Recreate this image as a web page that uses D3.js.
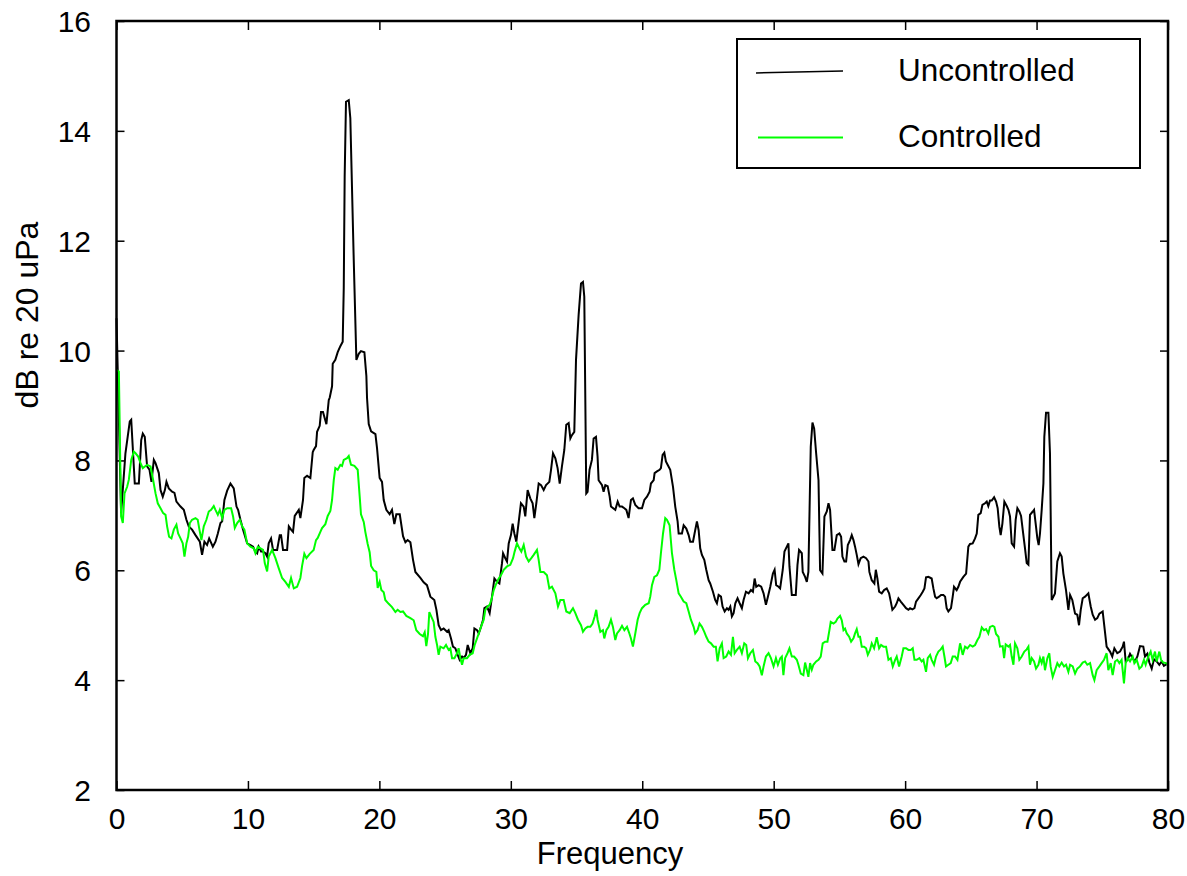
<!DOCTYPE html>
<html>
<head>
<meta charset="utf-8">
<script src="https://cdn.jsdelivr.net/npm/d3@7"></script>
<style>
  body { margin: 0; background: #fff; }
  svg text { font-family: "Liberation Sans", Arial, sans-serif; fill: #000; }
</style>
</head>
<body>
<script>
// values: [frequency, dB]
var uncontrolled = [
  [0,10.59],[0.35,7.04],[0.68,8.13],[1.01,8.71],[1.12,8.74],[1.39,7.58],[1.70,7.58],[1.88,8.37],[2.00,8.49],[2.15,8.43],
  [2.33,7.89],[2.51,7.83],[2.66,7.61],[2.84,8.01],[2.97,7.95],[3.22,7.77],[3.35,7.46],[3.52,7.34],[3.68,7.46],[3.80,7.61],
  [3.98,7.49],[4.23,7.43],[4.41,7.41],[4.56,7.25],[4.87,7.16],[5.12,7.10],[5.32,6.92],[5.50,6.80],[5.75,6.74],[6.01,6.64],
  [6.34,6.52],[6.51,6.28],[6.69,6.52],[6.89,6.46],[7.05,6.58],[7.33,6.43],[7.53,6.52],[7.71,6.67],[7.91,6.86],[8.04,6.89],
  [8.21,7.28],[8.42,7.45],[8.67,7.58],[8.92,7.49],[9.13,7.16],[9.25,7.10],[9.43,6.92],[9.63,6.74],[9.94,6.49],[10.19,6.46],
  [10.39,6.43],[10.57,6.34],[10.70,6.31],[10.82,6.43],[11.00,6.34],[11.13,6.34],[11.33,6.31],[11.46,6.25],[11.58,6.49],[11.76,6.58],
  [11.91,6.37],[12.22,6.37],[12.42,6.64],[12.52,6.64],[12.67,6.37],[12.98,6.37],[13.11,6.80],[13.28,6.74],[13.43,6.70],[13.56,6.99],
  [13.87,7.10],[13.99,6.95],[14.19,7.28],[14.29,7.68],[14.5,7.72],[14.75,7.68],[14.93,8.15],[15.0,8.19],[15.18,8.26],[15.26,8.52],
  [15.46,8.63],[15.56,8.88],[15.71,8.88],[15.97,8.66],[16.15,9.10],[16.22,9.14],[16.4,9.35],[16.45,9.76],[16.65,9.83],[16.83,9.97],
  [17.03,10.08],[17.21,10.16],[17.29,11.14],[17.36,13.18],[17.46,14.53],[17.67,14.56],[17.79,14.23],[18.05,11.65],[18.25,9.83],[18.43,9.94],
  [18.6,9.99],[18.86,9.97],[19.01,9.54],[19.06,9.14],[19.19,8.66],[19.37,8.53],[19.7,8.48],[19.82,8.23],[20.02,7.68],[20.2,7.61],
  [20.33,7.28],[20.53,7.10],[20.78,7.02],[20.96,7.10],[21.14,6.84],[21.29,7.02],[21.55,7.02],[21.8,6.62],[21.98,6.51],[22.15,6.55],
  [22.36,6.51],[22.56,6.19],[22.74,5.97],[23.12,5.86],[23.37,5.78],[23.62,5.73],[23.88,5.52],[24.18,5.46],[24.34,5.28],[24.51,5.0],
  [24.69,4.91],[24.89,4.94],[25.15,4.88],[25.27,4.91],[25.45,4.76],[25.6,4.61],[25.78,4.58],[25.96,4.46],[26.11,4.37],[26.29,4.43],
  [26.41,4.40],[26.59,4.46],[26.72,4.64],[26.92,4.49],[27.1,4.58],[27.23,4.94],[27.43,4.91],[27.56,4.85],[27.73,4.97],[27.89,5.10],
  [27.99,5.31],[28.19,5.34],[28.39,5.22],[28.57,5.52],[28.75,5.85],[28.95,5.79],[29.13,5.76],[29.33,6.13],[29.41,6.31],[29.58,6.22],
  [29.71,6.16],[29.84,6.49],[30.01,6.64],[30.14,6.85],[30.27,6.67],[30.42,6.52],[30.6,6.88],[30.77,7.22],[30.98,7.16],[31.1,6.98],
  [31.28,7.46],[31.48,7.31],[31.66,7.22],[31.79,6.95],[31.94,7.22],[32.12,7.58],[32.3,7.55],[32.5,7.46],[32.68,7.55],[32.93,7.61],
  [33.06,7.83],[33.21,8.13],[33.39,8.04],[33.56,7.86],[33.72,7.58],[33.89,7.89],[34.07,8.19],[34.22,8.65],[34.4,8.68],[34.53,8.40],
  [34.65,8.46],[34.83,8.52],[34.96,9.83],[35.16,10.65],[35.34,11.22],[35.49,11.25],[35.59,10.98],[35.74,7.40],[35.84,7.43],[35.99,7.83],
  [36.17,8.01],[36.3,8.40],[36.48,8.43],[36.6,8.07],[36.68,7.64],[36.94,7.55],[37.06,7.43],[37.19,7.55],[37.37,7.53],[37.52,7.34],
  [37.62,7.16],[37.95,7.10],[38.13,7.25],[38.28,7.16],[38.46,7.16],[38.64,7.13],[38.79,7.10],[38.96,6.95],[39.14,7.28],[39.29,7.31],
  [39.47,7.19],[39.72,7.13],[39.98,7.13],[40.16,7.28],[40.36,7.34],[40.56,7.43],[40.66,7.58],[40.87,7.64],[40.94,7.77],[41.12,7.80],
  [41.32,7.83],[41.42,7.86],[41.55,8.10],[41.68,8.14],[41.8,7.98],[41.93,7.92],[42.13,7.83],[42.34,7.52],[42.51,7.16],[42.69,6.89],
  [42.77,6.67],[43.02,6.67],[43.15,6.82],[43.35,6.76],[43.53,6.64],[43.65,6.52],[43.86,6.52],[43.98,6.67],[44.16,6.89],[44.29,6.73],
  [44.41,6.40],[44.54,6.28],[44.72,6.19],[44.87,6.01],[45.05,5.82],[45.17,5.76],[45.38,5.61],[45.55,5.46],[45.68,5.40],[45.81,5.55],
  [45.99,5.52],[46.11,5.34],[46.27,5.25],[46.44,5.31],[46.57,5.28],[46.7,5.34],[46.82,5.16],[46.95,5.22],[47.08,5.40],[47.25,5.49],
  [47.41,5.40],[47.58,5.31],[47.71,5.46],[47.89,5.61],[48.09,5.58],[48.27,5.64],[48.42,5.61],[48.55,5.85],[48.67,5.70],[48.85,5.73],
  [49.05,5.70],[49.23,5.58],[49.41,5.37],[49.56,5.52],[49.74,5.70],[49.94,5.94],[50.07,6.01],[50.19,5.73],[50.37,5.70],[50.49,5.67],
  [50.69,6.01],[50.82,6.34],[51.0,6.43],[51.12,6.49],[51.2,6.07],[51.38,5.55],[51.68,5.55],[51.81,6.10],[51.93,6.37],[52.14,6.31],
  [52.21,5.97],[52.39,5.88],[52.52,5.79],[52.64,5.97],[52.82,8.25],[52.95,8.69],[53.08,8.58],[53.23,8.13],[53.41,7.64],[53.53,6.0],
  [53.71,5.94],[53.86,6.98],[54.04,7.07],[54.17,7.22],[54.29,7.10],[54.47,6.37],[54.62,6.37],[54.8,6.64],[55.0,6.67],[55.13,6.61],
  [55.23,6.25],[55.38,6.16],[55.51,6.16],[55.64,6.46],[55.81,6.55],[55.94,6.64],[56.07,6.55],[56.19,6.43],[56.32,6.28],[56.45,6.11],
  [56.62,6.22],[56.83,6.25],[57.03,6.22],[57.21,6.16],[57.28,5.97],[57.46,5.82],[57.66,5.76],[57.77,6.01],[57.89,5.85],[58.02,5.61],
  [58.22,5.58],[58.4,5.64],[58.6,5.67],[58.78,5.58],[58.91,5.43],[59.03,5.28],[59.24,5.34],[59.36,5.40],[59.49,5.49],[59.67,5.43],
  [59.87,5.37],[60.07,5.31],[60.25,5.28],[60.38,5.31],[60.55,5.29],[60.71,5.31],[60.83,5.43],[61.01,5.49],[61.19,5.55],[61.34,5.61],
  [61.47,5.67],[61.59,5.87],[61.77,5.88],[62.02,5.85],[62.15,5.67],[62.28,5.52],[62.4,5.49],[62.58,5.52],[62.73,5.55],[62.91,5.55],
  [63.04,5.52],[63.16,5.31],[63.29,5.25],[63.49,5.31],[63.62,5.52],[63.72,5.70],[63.92,5.64],[64.05,5.70],[64.18,5.79],[64.43,5.88],
  [64.64,5.94],[64.81,6.43],[64.94,6.48],[65.14,6.49],[65.32,6.58],[65.45,6.67],[65.57,7.01],[65.75,7.04],[65.88,7.19],[66.08,7.22],
  [66.21,7.25],[66.33,7.17],[66.46,7.27],[66.59,7.27],[66.77,7.33],[66.92,7.25],[67.04,7.13],[67.17,6.79],[67.27,6.64],[67.4,6.85],
  [67.55,7.25],[67.73,7.17],[67.86,7.10],[67.98,6.98],[68.11,6.49],[68.29,6.43],[68.41,6.92],[68.54,7.13],[68.69,7.07],[68.82,6.99],
  [68.95,6.73],[69.12,6.40],[69.25,6.13],[69.38,6.10],[69.5,7.01],[69.71,7.07],[69.81,7.10],[69.96,6.79],[70.06,6.58],[70.16,6.46],
  [70.26,6.67],[70.39,7.10],[70.52,7.58],[70.59,8.43],[70.72,8.87],[70.9,8.87],[71.02,8.13],[71.15,5.46],[71.4,5.58],[71.58,6.16],
  [71.78,6.31],[71.91,6.25],[72.04,5.94],[72.24,5.64],[72.42,5.28],[72.55,5.55],[72.72,5.46],[72.93,5.21],[73.1,5.19],[73.23,5.00],
  [73.36,5.28],[73.51,5.49],[73.69,5.52],[73.94,5.58],[74.12,5.34],[74.27,5.19],[74.45,5.10],[74.62,5.13],[74.78,5.21],[75.03,5.25],
  [75.33,4.61],[75.59,4.52],[75.76,4.43],[75.92,4.58],[76.14,4.49],[76.35,4.52],[76.55,4.61],[76.65,4.70],[76.78,4.34],[76.93,4.37],
  [77.11,4.48],[77.31,4.40],[77.49,4.34],[77.67,4.43],[77.87,4.62],[78.12,4.61],[78.25,4.43],[78.43,4.48],[78.58,4.32],[78.76,4.21],
  [78.93,4.38],[79.14,4.34],[79.34,4.28],[79.52,4.34],[79.69,4.26],[79.9,4.29]
];

var controlled = [
  [0,9.65],[0.18,9.62],[0.35,6.98],[0.48,6.86],[0.61,7.40],[0.81,7.52],[0.94,7.65],[1.12,8.01],[1.32,8.16],[1.45,8.13],
  [1.65,8.07],[1.83,7.95],[2.00,7.86],[2.33,7.92],[2.59,7.89],[2.79,7.64],[2.97,7.40],[3.14,7.22],[3.35,7.13],[3.55,7.04],
  [3.73,7.01],[3.85,6.80],[4.00,6.61],[4.18,6.58],[4.36,6.74],[4.56,6.83],[4.69,6.67],[4.87,6.58],[5.04,6.49],[5.17,6.25],
  [5.32,6.49],[5.45,6.61],[5.58,6.86],[5.75,6.92],[6.01,6.95],[6.18,6.92],[6.31,6.74],[6.46,6.55],[6.64,6.80],[6.84,6.92],
  [7.02,7.07],[7.20,7.10],[7.40,7.17],[7.53,7.10],[7.71,7.01],[7.86,7.10],[8.04,6.95],[8.21,7.10],[8.42,7.13],[8.72,7.13],
  [8.87,6.98],[9.00,6.77],[9.18,6.86],[9.38,6.92],[9.56,6.80],[9.73,6.74],[9.94,6.49],[10.19,6.43],[10.44,6.40],[10.57,6.31],
  [10.75,6.43],[10.95,6.40],[11.15,6.37],[11.28,6.13],[11.46,5.98],[11.58,6.25],[11.84,6.37],[12.09,6.22],[12.34,6.04],[12.60,5.86],
  [12.85,5.79],[13.11,5.70],[13.28,5.86],[13.49,5.67],[13.74,5.70],[13.99,5.86],[14.12,6.08],[14.29,6.30],[14.45,6.22],[14.7,6.30],
  [15.0,6.37],[15.18,6.55],[15.31,6.59],[15.51,6.70],[15.64,6.77],[15.89,6.84],[16.07,6.99],[16.27,7.08],[16.4,7.28],[16.53,7.64],
  [16.65,7.86],[16.83,7.83],[17.03,7.92],[17.16,7.90],[17.29,8.01],[17.54,8.04],[17.67,8.08],[17.84,7.92],[18.1,7.90],[18.35,7.83],
  [18.5,7.35],[18.6,7.02],[18.81,6.88],[18.93,6.70],[19.11,6.48],[19.26,6.33],[19.37,6.08],[19.57,6.00],[19.77,5.97],[19.87,5.68],
  [20.02,5.79],[20.15,5.64],[20.33,5.60],[20.45,5.46],[20.71,5.39],[20.96,5.33],[21.22,5.24],[21.39,5.28],[21.6,5.24],[21.8,5.25],
  [22.05,5.17],[22.36,5.13],[22.61,5.09],[22.81,4.91],[23.07,4.84],[23.32,4.80],[23.45,4.87],[23.57,4.62],[23.7,4.84],[23.8,5.24],
  [24.13,5.06],[24.26,4.79],[24.39,4.64],[24.51,4.46],[24.64,4.61],[24.89,4.58],[25.07,4.64],[25.27,4.55],[25.4,4.58],[25.53,4.40],
  [25.71,4.40],[25.91,4.49],[26.03,4.58],[26.16,4.40],[26.29,4.28],[26.41,4.40],[26.67,4.40],[26.87,4.46],[27.1,4.49],[27.25,4.64],
  [27.43,4.76],[27.56,4.85],[27.73,4.97],[27.94,5.10],[28.06,5.28],[28.24,5.34],[28.39,5.37],[28.52,5.46],[28.7,5.64],[28.9,5.76],
  [29.08,5.85],[29.25,5.91],[29.46,6.01],[29.71,6.07],[29.96,6.10],[30.17,6.22],[30.29,6.34],[30.47,6.49],[30.65,6.40],[30.8,6.34],
  [30.98,6.46],[31.16,6.25],[31.36,6.16],[31.56,6.22],[31.74,6.28],[31.99,6.37],[32.12,6.19],[32.25,5.97],[32.5,5.97],[32.75,5.91],
  [32.93,5.67],[33.13,5.70],[33.39,5.58],[33.59,5.34],[33.77,5.46],[34.02,5.46],[34.22,5.25],[34.48,5.22],[34.73,5.31],[34.91,5.22],
  [35.11,5.10],[35.34,5.00],[35.49,4.88],[35.67,4.94],[35.84,4.97],[36.05,4.97],[36.22,5.03],[36.38,5.16],[36.5,5.28],[36.6,5.10],
  [36.81,4.88],[37.01,4.91],[37.11,4.76],[37.27,4.91],[37.44,4.97],[37.62,5.10],[37.77,4.97],[37.95,4.73],[38.08,4.85],[38.28,4.91],
  [38.46,4.99],[38.64,4.91],[38.84,4.97],[39.02,4.85],[39.14,4.76],[39.29,4.61],[39.47,4.85],[39.65,5.10],[39.8,5.22],[39.98,5.31],
  [40.23,5.37],[40.49,5.40],[40.61,5.52],[40.74,5.73],[40.92,5.88],[41.12,5.91],[41.3,6.01],[41.42,6.31],[41.58,6.67],[41.75,6.95],
  [41.88,6.92],[42.08,6.82],[42.26,6.31],[42.44,6.01],[42.59,5.82],[42.77,5.58],[42.94,5.52],[43.15,5.43],[43.35,5.40],[43.53,5.25],
  [43.7,5.10],[43.91,4.97],[44.03,4.85],[44.21,4.91],[44.36,5.03],[44.54,4.97],[44.72,4.88],[44.87,4.79],[45.05,4.70],[45.23,4.67],
  [45.43,4.61],[45.6,4.61],[45.73,4.34],[45.89,4.58],[46.06,4.67],[46.19,4.40],[46.39,4.43],[46.57,4.52],[46.75,4.46],[46.9,4.79],
  [47.03,4.49],[47.2,4.55],[47.41,4.61],[47.58,4.49],[47.76,4.67],[47.91,4.64],[48.04,4.40],[48.22,4.49],[48.42,4.55],[48.6,4.34],
  [48.77,4.31],[48.93,4.25],[49.1,4.09],[49.23,4.25],[49.41,4.43],[49.61,4.49],[49.79,4.40],[49.99,4.25],[50.17,4.40],[50.32,4.28],
  [50.5,4.40],[50.62,4.43],[50.74,4.09],[50.87,4.40],[51.05,4.49],[51.2,4.58],[51.38,4.43],[51.55,4.43],[51.76,4.37],[51.88,4.28],
  [52.06,4.12],[52.26,4.09],[52.39,4.32],[52.52,4.19],[52.64,4.06],[52.77,4.31],[52.9,4.19],[53.02,4.28],[53.23,4.34],[53.41,4.37],
  [53.58,4.43],[53.73,4.67],[53.91,4.70],[54.09,4.70],[54.24,4.91],[54.34,5.06],[54.55,5.03],[54.72,5.06],[54.85,5.12],[55.05,5.17],
  [55.18,5.09],[55.31,4.91],[55.43,4.94],[55.56,4.85],[55.74,4.79],[55.89,4.70],[56.07,4.76],[56.19,4.85],[56.32,4.93],[56.45,4.79],
  [56.57,4.79],[56.7,4.61],[56.88,4.61],[57.03,4.58],[57.16,4.46],[57.33,4.55],[57.46,4.67],[57.64,4.58],[57.84,4.78],[58.02,4.58],
  [58.17,4.64],[58.35,4.61],[58.55,4.61],[58.73,4.37],[58.91,4.40],[59.06,4.25],[59.24,4.37],[59.36,4.43],[59.54,4.25],[59.74,4.43],
  [59.87,4.58],[60.07,4.58],[60.25,4.55],[60.43,4.55],[60.58,4.58],[60.71,4.37],[60.88,4.37],[61.09,4.40],[61.26,4.34],[61.39,4.37],
  [61.59,4.15],[61.72,4.40],[61.9,4.46],[62.02,4.37],[62.2,4.28],[62.35,4.43],[62.53,4.52],[62.71,4.56],[62.86,4.61],[62.99,4.43],
  [63.11,4.25],[63.29,4.28],[63.47,4.31],[63.62,4.43],[63.8,4.43],[63.98,4.37],[64.18,4.67],[64.38,4.46],[64.56,4.61],[64.74,4.58],
  [64.94,4.64],[65.14,4.61],[65.32,4.64],[65.5,4.73],[65.65,4.79],[65.83,4.96],[66.0,4.91],[66.16,4.93],[66.33,4.85],[66.46,4.97],
  [66.66,4.99],[66.79,4.97],[66.92,4.84],[67.1,4.79],[67.22,4.61],[67.42,4.62],[67.53,4.40],[67.65,4.65],[67.86,4.61],[67.98,4.64],
  [68.11,4.43],[68.24,4.28],[68.36,4.67],[68.54,4.58],[68.69,4.37],[68.87,4.43],[69.07,4.52],[69.25,4.56],[69.38,4.61],[69.5,4.28],
  [69.63,4.40],[69.81,4.34],[69.96,4.21],[70.14,4.28],[70.26,4.40],[70.39,4.31],[70.52,4.43],[70.64,4.18],[70.82,4.40],[70.97,4.49],
  [71.07,4.25],[71.23,4.06],[71.4,4.18],[71.58,4.31],[71.73,4.25],[71.91,4.32],[72.09,4.25],[72.24,4.28],[72.42,4.15],[72.55,4.28],
  [72.75,4.25],[72.93,4.12],[73.1,4.21],[73.3,4.25],[73.51,4.32],[73.69,4.34],[73.86,4.28],[74.07,4.31],[74.27,4.09],[74.4,4.00],
  [74.57,4.18],[74.78,4.25],[74.95,4.31],[75.13,4.37],[75.33,4.49],[75.46,4.18],[75.64,4.31],[75.79,4.09],[75.97,4.34],[76.14,4.37],
  [76.3,4.31],[76.47,4.37],[76.65,3.94],[76.78,4.31],[76.93,4.40],[77.11,4.34],[77.31,4.43],[77.44,4.31],[77.62,4.37],[77.82,4.21],
  [78.0,4.25],[78.17,4.37],[78.3,4.28],[78.5,4.43],[78.68,4.52],[78.83,4.37],[79.01,4.52],[79.14,4.34],[79.34,4.52],[79.47,4.37],
  [79.64,4.32],[79.85,4.31],[80.0,4.28]
];

var xTicks = [0, 10, 20, 30, 40, 50, 60, 70, 80];
var yTicks = [2, 4, 6, 8, 10, 12, 14, 16];
var seriesNames = ["Uncontrolled", "Controlled"];
var seriesColors = ["#000000", "#00ff00"];

var width = 1187, height = 876;
var plotLeft = 116.5, plotRight = 1168, plotTop = 21, plotBottom = 790;

var svg = d3.select("body").append("svg")
    .attr("width", width)
    .attr("height", height);

var x = d3.scaleLinear().domain([0, 80]).range([plotLeft, plotRight]);
var y = d3.scaleLinear().domain([2, 16]).range([plotBottom, plotTop]);

// inward ticks on all four sides
var xAxisG = svg.append("g")
    .attr("transform", "translate(0," + plotBottom + ")")
    .call(d3.axisBottom(x).tickValues(xTicks).tickSize(-9).tickSizeOuter(0));
var xTopG = svg.append("g")
    .attr("transform", "translate(0," + plotTop + ")")
    .call(d3.axisTop(x).tickValues(xTicks).tickSize(-9).tickSizeOuter(0));
var yAxisG = svg.append("g")
    .attr("transform", "translate(" + plotLeft + ",0)")
    .call(d3.axisLeft(y).tickValues(yTicks).tickSize(-8).tickSizeOuter(0));
var yRightG = svg.append("g")
    .attr("transform", "translate(" + plotRight + ",0)")
    .call(d3.axisRight(y).tickValues(yTicks).tickSize(-8).tickSizeOuter(0));

[xAxisG, xTopG, yAxisG, yRightG].forEach(function(g) {
  g.select(".domain").remove();
  g.selectAll(".tick line").attr("stroke", "#000").attr("stroke-width", 1.5);
});
xTopG.selectAll(".tick text").remove();
yRightG.selectAll(".tick text").remove();

xAxisG.selectAll(".tick text")
    .attr("font-size", 30).attr("fill", "#000")
    .attr("y", 39).attr("dy", 0);
yAxisG.selectAll(".tick text")
    .attr("font-size", 30).attr("fill", "#000")
    .attr("x", -25.5).attr("dy", "0.35em");

var line = d3.line()
    .x(function(d) { return x(d[0]); })
    .y(function(d) { return y(d[1]); });

svg.append("path")
    .datum(uncontrolled)
    .attr("fill", "none")
    .attr("stroke", seriesColors[0])
    .attr("stroke-width", 2)
    .attr("d", line);

svg.append("path")
    .datum(controlled)
    .attr("fill", "none")
    .attr("stroke", seriesColors[1])
    .attr("stroke-width", 2)
    .attr("d", line);

// frame
svg.append("rect")
    .attr("x", plotLeft).attr("y", plotTop)
    .attr("width", plotRight - plotLeft).attr("height", plotBottom - plotTop)
    .attr("fill", "none").attr("stroke", "#000").attr("stroke-width", 2.5);

// legend
svg.append("rect")
    .attr("x", 737).attr("y", 39).attr("width", 403).attr("height", 129)
    .attr("fill", "#fff").attr("stroke", "#000").attr("stroke-width", 2);

svg.append("line")
    .attr("x1", 756).attr("y1", 73).attr("x2", 843).attr("y2", 71)
    .attr("stroke", seriesColors[0]).attr("stroke-width", 1.5);
svg.append("line")
    .attr("x1", 758).attr("y1", 137.5).attr("x2", 843).attr("y2", 137.5)
    .attr("stroke", seriesColors[1]).attr("stroke-width", 2);

svg.append("text").attr("x", 898).attr("y", 81).attr("font-size", 31.5).text(seriesNames[0]);
svg.append("text").attr("x", 898).attr("y", 147).attr("font-size", 31.5).text(seriesNames[1]);

// axis titles
svg.append("text")
    .attr("x", 610).attr("y", 864)
    .attr("text-anchor", "middle").attr("font-size", 31)
    .text("Frequency");

svg.append("text")
    .attr("transform", "translate(38,315) rotate(-90)")
    .attr("text-anchor", "middle").attr("font-size", 32)
    .text("dB re 20 uPa");
</script>
</body>
</html>
